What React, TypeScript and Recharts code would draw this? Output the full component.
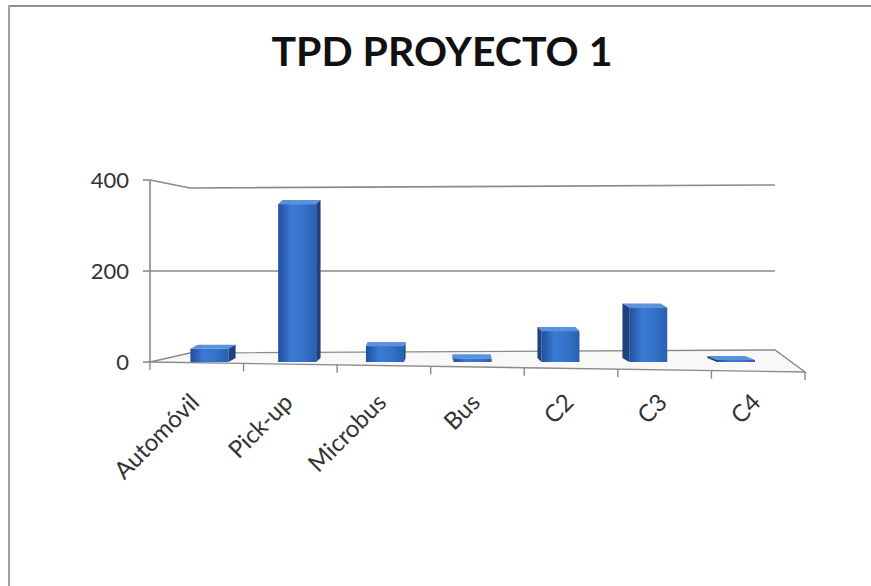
import React from 'react';
import { BarChart, Bar, XAxis, YAxis, CartesianGrid } from 'recharts';

const categories = ['Automóvil', 'Pick-up', 'Microbus', 'Bus', 'C2', 'C3', 'C4'];
const tpd = [29, 347, 35, 8, 68, 120, 3];
const yTicks = [0, 200, 400];

const data = categories.map((name, i) => ({ name, tpd: tpd[i] }));

const WIDTH = 871;
const HEIGHT = 586;
const MARGIN = { top: 180, right: 66, left: 100, bottom: 114 };
const Y_AXIS_W = 50;
const X_AXIS_H = 110;

const PLOT_LEFT = MARGIN.left + Y_AXIS_W;
const PLOT_RIGHT = WIDTH - MARGIN.right;
const PLOT_BOTTOM = HEIGHT - MARGIN.bottom - X_AXIS_H;
const PLOT_CX = (PLOT_LEFT + PLOT_RIGHT) / 2;

const FONT = 'Lato, "Open Sans", sans-serif';
const LINE = '#8a8a8a';
const TEXT = '#333';

// fake 3D: back wall is narrower than the front edge of the floor
const BACK_IN_L = 40;
const BACK_IN_R = 30;

const WallLine = (props: any) => {
  const { x1, x2, y1, index } = props;
  const backL = x1 + BACK_IN_L;
  const backR = x2 - BACK_IN_R;
  if (Math.abs(y1 - PLOT_BOTTOM) < 1) {
    const n = categories.length;
    const frontY = (x: number) => y1 + ((x - x1) / (x2 - x1)) * 10;
    return (
      <g key={`floor-${index}`}>
        <polygon
          points={`${x1},${y1} ${x2},${y1 + 10} ${backR},${y1 - 12} ${backL},${y1 - 9}`}
          fill="#f8f8f8"
          stroke={LINE}
          strokeWidth={1.4}
        />
        {Array.from({ length: n + 1 }, (_, i) => {
          const tx = x1 + ((x2 - x1) * i) / n;
          const ty = frontY(tx);
          return <line key={i} x1={tx} y1={ty} x2={tx} y2={ty + 8} stroke={LINE} strokeWidth={1.4} />;
        })}
      </g>
    );
  }
  if (y1 < MARGIN.top + 1) {
    return (
      <polyline
        key={`top-${index}`}
        points={`${x1},${y1} ${backL},${y1 + 8} ${backR},${y1 + 5}`}
        fill="none"
        stroke={LINE}
        strokeWidth={1.6}
      />
    );
  }
  return <line key={`grid-${index}`} x1={x1} y1={y1} x2={backR} y2={y1} stroke={LINE} strokeWidth={1.6} />;
};

const Box3D = (props: any) => {
  const { x, y, width, height, index } = props;
  if (x == null || height == null) return null;
  const cx = x + width / 2;
  // bars sit mid-depth, so they drift toward the centre and show a side face
  const fx = x + (cx - PLOT_CX) * -0.062 - 5;
  const d = (PLOT_CX - 40 - cx) * 0.03;
  const up = 4;
  const h = Math.max(height, 2);
  const top = y + height - h;
  const sideX = d >= 0 ? fx + width : fx;
  return (
    <g>
      <polygon
        points={`${fx},${top} ${fx + width},${top} ${fx + width + d},${top - up} ${fx + d},${top - up}`}
        fill="#5a92dc"
      />
      <polygon
        points={`${sideX},${top} ${sideX + d},${top - up} ${sideX + d},${top + h - up} ${sideX},${top + h}`}
        fill="#1d427f"
      />
      <rect x={fx} y={top} width={width} height={h} fill="url(#barFront)" key={index} />
    </g>
  );
};

const CategoryTick = (props: any) => {
  const { x, payload } = props;
  const tx = x + 4;
  const ty = 404;
  return (
    <text
      x={tx}
      y={ty}
      transform={`rotate(-45, ${tx}, ${ty})`}
      textAnchor="end"
      fontSize={24}
      fontFamily={FONT}
      fill={TEXT}
    >
      {payload.value}
    </text>
  );
};

export default function App() {
  return (
    <div
      style={{
        position: 'absolute',
        left: 0,
        top: 0,
        width: WIDTH,
        height: HEIGHT,
        background: '#fff',
        overflow: 'hidden',
      }}
    >
      <div style={{ position: 'absolute', left: 8, top: 5, right: 0, height: 2, background: '#8f8f8f' }} />
      <div style={{ position: 'absolute', left: 8, top: 5, bottom: 0, width: 2, background: '#a0a0a0' }} />
      <div
        style={{
          position: 'absolute',
          left: 0,
          top: 26,
          width: 884,
          textAlign: 'center',
          fontFamily: FONT,
          fontWeight: 700,
          fontSize: 41,
          color: '#111',
        }}
      >
        TPD PROYECTO 1
      </div>
      <BarChart
        width={WIDTH}
        height={HEIGHT}
        data={data}
        margin={MARGIN}
        barSize={38}
        style={{ position: 'absolute', left: 0, top: 0 }}
      >
        <defs>
          <linearGradient id="barFront" x1="0" y1="0" x2="1" y2="0">
            <stop offset="0%" stopColor="#214f9c" />
            <stop offset="35%" stopColor="#3a7ad6" />
            <stop offset="70%" stopColor="#3470c8" />
            <stop offset="100%" stopColor="#2a5fb0" />
          </linearGradient>
        </defs>
        <CartesianGrid vertical={false} horizontal={WallLine} />
        <XAxis
          dataKey="name"
          height={X_AXIS_H}
          axisLine={false}
          tickLine={false}
          interval={0}
          tick={CategoryTick}
        />
        <YAxis
          width={Y_AXIS_W}
          domain={[0, 400]}
          ticks={yTicks}
          tickSize={7}
          tickMargin={14}
          axisLine={{ stroke: LINE, strokeWidth: 1.6 }}
          tickLine={{ stroke: LINE, strokeWidth: 1.6 }}
          tick={{ fontSize: 22, fontFamily: FONT, fill: TEXT }}
        />
        <Bar dataKey="tpd" shape={Box3D} isAnimationActive={false} />
      </BarChart>
    </div>
  );
}
